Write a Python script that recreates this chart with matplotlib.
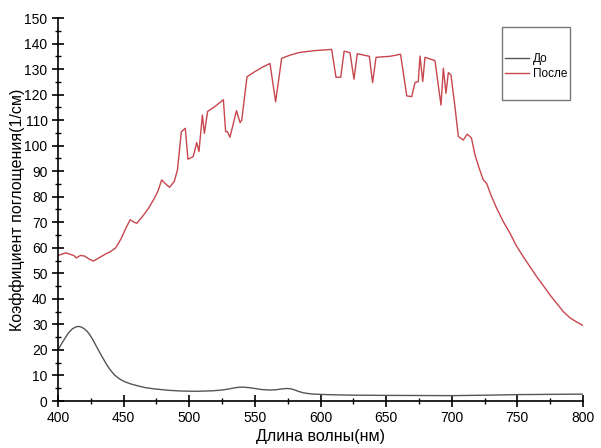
import matplotlib
matplotlib.use("Agg")
import matplotlib.pyplot as plt
from matplotlib.patches import Rectangle
from matplotlib.ticker import MultipleLocator

plt.rcParams['font.family'] = ['Liberation Sans', 'DejaVu Sans']

# "После" (after) curve
wl_after = [400, 403, 406, 409, 412, 414, 417, 420, 424, 427, 431, 436, 440, 444,
            448, 452, 455, 458, 460, 464, 469, 473, 476, 479, 482, 485, 488.6, 491,
            494, 497, 499, 503, 505.7, 507.4, 510, 511.5, 514, 520, 526, 527.7, 529,
            531, 536, 538.7, 540, 544, 550, 556, 561.5, 565.8, 570.4, 577, 584, 595,
            608.5, 611.8, 615.4, 618, 622.5, 625.5, 628, 637.2, 639.7, 642.3, 653,
            661, 665.7, 669.5, 672, 674.5, 675.8, 677.9, 679.6, 687.2, 691.8, 693.6,
            695.6, 697.4, 699.4, 702.5, 705, 708.8, 711.8, 715, 717.7, 721, 724,
            726.6, 730, 734.2, 739, 744.4, 749, 754.5, 760, 764.7, 770, 774.9, 780,
            785, 790, 795, 800]
k_after = [57, 57.5, 58, 57.5, 57, 56, 57, 56.8, 55.5, 54.8, 56, 57.5, 58.5, 60,
           63.5, 68, 71, 70, 69.6, 72, 75.5, 79, 82, 86.6, 85, 83.7, 86, 90.5,
           105.5, 106.8, 94.7, 95.7, 101.2, 97.7, 112, 104.8, 113.4, 115.5, 118, 105.5, 105.5,
           103.3, 113.7, 109, 110, 127, 129, 130.8, 132.2, 117.2, 134.2, 135.5, 136.5, 137.2,
           137.7, 126.8, 126.8, 137, 136.4, 126, 136, 135, 124.7, 134.6, 135,
           135.8, 119.5, 119.2, 124.7, 125.1, 135.1, 125.1, 134.6, 133.3, 115.9, 130.3,
           120.5, 128.6, 127.7, 115, 103.6, 102.2, 104.5, 103, 96.4, 91, 86.6,
           85.2, 80.5, 75.5, 70.5, 65.7, 61, 56.5, 52.3, 48.7, 45, 41.5, 38.2,
           35, 32.6, 31.0, 29.6]

# "До" (before) curve
wl_before = [400, 402, 405, 408, 411, 414, 416, 418, 420, 422, 424, 426, 428, 430,
             432, 434, 436, 438, 440, 443, 447, 451, 456, 461, 467, 474, 484, 494,
             505, 512, 518, 525, 530, 534, 538, 542, 546, 550, 555, 561, 566, 570,
             574, 577, 580, 583, 587, 591, 595, 605, 622, 650, 700, 730, 750, 775,
             800]
k_before = [20, 21.8, 24.3, 26.7, 28.3, 29.1, 29.2, 28.9, 28.3, 27.4, 26.1, 24.5, 22.6, 20.7,
            18.8, 17.0, 15.2, 13.5, 12.1, 10.2, 8.6, 7.5, 6.6, 5.9, 5.2, 4.7, 4.2, 3.9,
            3.8, 3.9, 4.0, 4.3, 4.7, 5.1, 5.4, 5.4, 5.2, 4.9, 4.5, 4.3, 4.4, 4.7,
            4.9, 4.8, 4.4, 3.8, 3.2, 2.9, 2.7, 2.5, 2.3, 2.2, 2.1, 2.3, 2.5, 2.6,
            2.7]

fig = plt.figure(figsize=(6.01, 4.48), dpi=100)
ax = fig.add_axes([58 / 601, 47 / 448, 525 / 601, 383 / 448])

l1, = ax.plot(wl_before, k_before, color='#555555', lw=1.0, label='До')
l2, = ax.plot(wl_after, k_after, color='#c8464e', lw=1.0, label='После')

ax.set_xlim(400, 800)
ax.set_ylim(0, 150)
ax.xaxis.set_major_locator(MultipleLocator(50))
ax.xaxis.set_minor_locator(MultipleLocator(25))
ax.yaxis.set_major_locator(MultipleLocator(10))
ax.yaxis.set_minor_locator(MultipleLocator(5))
ax.tick_params(which='major', direction='inout', length=8, width=1.2, labelsize=10)
ax.tick_params(which='minor', direction='inout', length=5, width=1.0)
ax.spines['top'].set_visible(False)
ax.spines['right'].set_visible(False)
for s in ('left', 'bottom'):
    ax.spines[s].set_linewidth(1.2)

ax.set_xlabel('Длина волны(нм)', fontsize=11.5)
ax.set_ylabel('Коэффициент поглощения(1/см)', fontsize=11.5)
ax.xaxis.set_label_coords(0.5, -0.072)
ax.yaxis.set_label_coords(-0.062, 0.5)

# legend box
fig.patches.append(Rectangle((502 / 601, 1 - 100 / 448), 68 / 601, 73 / 448,
                             transform=fig.transFigure, fill=False,
                             edgecolor='#777777', lw=1.0))
fig.legend(handles=[l1, l2], loc='upper left',
           bbox_to_anchor=(503 / 601, 1 - 51 / 448), frameon=False,
           fontsize=8.5, handlelength=2.0, handletextpad=0.3, labelspacing=0.25,
           borderpad=0.2, borderaxespad=0)

fig.savefig('out.png', dpi=100)
